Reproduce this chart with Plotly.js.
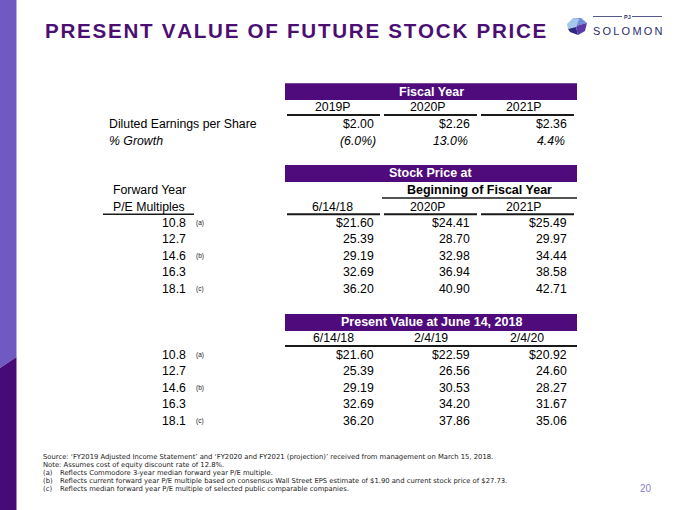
<!DOCTYPE html>
<html><head><meta charset="utf-8">
<script src="https://cdn.plot.ly/plotly-3.0.1.min.js"></script>
<style>html,body{margin:0;padding:0;background:#fff}#chart{width:680px;height:510px}</style>
</head><body><div id="chart"></div>
<script>
// ---------- DATA ----------
const pageTitle = 'PRESENT VALUE OF FUTURE STOCK PRICE';
const fiscalYears = ['2019P', '2020P', '2021P'];
const dilutedEPS = [2.00, 2.26, 2.36];
const epsGrowth = [-6.0, 13.0, 4.4];
const peMultiples = [10.8, 12.7, 14.6, 16.3, 18.1];
const peNotes = ['(a)', '', '(b)', '', '(c)'];
const stockPriceDates = ['6/14/18', '2020P', '2021P'];
const price061418 = [21.60, 25.39, 29.19, 32.69, 36.20];
const price2020P = [24.41, 28.70, 32.98, 36.94, 40.90];
const price2021P = [25.49, 29.97, 34.44, 38.58, 42.71];
const pvDates = ['6/14/18', '2/4/19', '2/4/20'];
const pv061418 = [21.60, 25.39, 29.19, 32.69, 36.20];
const pv020419 = [22.59, 26.56, 30.53, 34.20, 37.86];
const pv020420 = [20.92, 24.60, 28.27, 31.67, 35.06];
const footnoteLabels = ['', '', '(a)', '(b)', '(c)'];
const footnoteTexts = [
  "Source: \u2018FY2019 Adjusted Income Statement\u2019 and \u2018FY2020 and FY2021 (projection)\u2019 received from management on March 15, 2018.",
  "Note: Assumes cost of equity discount rate of 12.8%.",
  "Reflects Commodore 3-year median forward year P/E multiple.",
  "Reflects current forward year P/E multiple based on consensus Wall Street EPS estimate of $1.90 and current stock price of $27.73.",
  "Reflects median forward year P/E multiple of selected public comparable companies."
];
const pageNumber = '20';

// ---------- STYLE / LAYOUT CONSTANTS ----------
const FONT = 'Liberation Sans, Arial, sans-serif';
const NOTE_FONT = 'DejaVu Sans, Liberation Sans, sans-serif';
const PURPLE = '#4f0b7b';
const colRight = [375.5, 472, 568.5];
const colCenter = [332.5, 427.5, 524];
const segs = [[287, 380], [384, 477], [481, 574]];
const rowGap = 16.55;

const ann = [];
const shapes = [];
function T(x, y, text, o) {
  o = o || {};
  ann.push({
    xref: 'x', yref: 'y', x: x, y: y, text: text, showarrow: false,
    xanchor: o.xa || 'center', yanchor: 'middle',
    font: {family: o.family || FONT, size: o.size || 12.3, color: o.color || '#000',
           weight: o.weight || 'normal', style: o.style || 'normal'}
  });
}
function L(x0, y0, x1, y1, w, c) {
  shapes.push({type: 'line', xref: 'x', yref: 'y', x0: x0, y0: y0, x1: x1, y1: y1,
               line: {color: c || '#1a1a1a', width: w || 2}});
}
function R(x0, y0, x1, y1, c) {
  shapes.push({type: 'rect', xref: 'x', yref: 'y', x0: x0, y0: y0, x1: x1, y1: y1,
               fillcolor: c, line: {width: 0}, layer: 'below'});
}
function P(path, c) {
  shapes.push({type: 'path', xref: 'x', yref: 'y', path: path, fillcolor: c, line: {width: 0}});
}
const spaced = (s, sp) => s.split('').join(sp || '\u2009');
const money = (v, i) => (i === 0 ? '$' : '') + v.toFixed(2);

// side bar
P('M0,0 L16.5,0 L16.5,357 L0,368 Z', '#7159c3');
P('M0,368 L16.5,357 L16.5,510 L0,510 Z', '#470b77');

// title
T(43, 30.6, spaced(pageTitle, '\u200A'), {xa: 'left', size: 20.6, weight: 'bold', color: '#4b0f74'});

// logo
P('M567,24 L573,18 L579,19 L576,27 L568,29 Z', '#a6c6ec');
P('M573,18 L581,18 L587,23 L579,25 L576,27 L579,19 Z', '#6f90d8');
P('M568,29 L576,27 L578,35 L570,32 Z', '#2e2a7c');
P('M576,27 L579,25 L587,23 L585,31 L578,35 Z', '#5a3aa8');
L(593, 16.5, 622, 16.5, 0.8, '#2b2d6e');
L(632, 16.5, 662, 16.5, 0.8, '#2b2d6e');
T(627, 16.5, 'PJ', {size: 5.5, color: '#2b2d6e', weight: 'bold'});
T(627, 30.5, spaced('SOLOMON'), {size: 11, color: '#2b2d6e'});

// ---------- Section 1: Fiscal Year ----------
R(285, 83.3, 577, 100, PURPLE);
T(431, 91.7, 'Fiscal Year', {weight: 'bold', color: '#fff', size: 12.5});
fiscalYears.forEach((y, i) => { T(colCenter[i], 107.3, y); L(segs[i][0], 115, segs[i][1], 115); });
T(107, 124.3, 'Diluted Earnings per Share', {xa: 'left'});
dilutedEPS.forEach((v, i) => T(colRight[i], 124.3, '$' + v.toFixed(2), {xa: 'right'}));
T(107, 140.8, '% Growth', {xa: 'left', style: 'italic'});
epsGrowth.forEach((v, i) => {
  const neg = v < 0;
  const s = neg ? '(' + Math.abs(v).toFixed(1) + '%)' : v.toFixed(1) + '%';
  T(colRight[i] + (neg ? 2.5 : -2), 140.8, s, {xa: 'right', style: 'italic'});
});

// ---------- Section 2: Stock Price ----------
R(285, 165, 577, 182, PURPLE);
T(431, 173.4, 'Stock Price at', {weight: 'bold', color: '#fff', size: 12.5});
T(149, 190, 'Forward Year');
T(149, 206.7, 'P/E Multiples');
L(103, 214.3, 194, 214.3, 1.6);
T(479, 190, 'Beginning of Fiscal Year', {weight: 'bold', size: 12.5});
L(382, 198, 577, 198, 1.6);
stockPriceDates.forEach((d, i) => { T(colCenter[i], 206.7, d); L(segs[i][0], 214.3, segs[i][1], 214.3); });
const priceCols = [price061418, price2020P, price2021P];
peMultiples.forEach((m, r) => {
  const y = 222.7 + r * rowGap;
  T(187.5, y, m.toFixed(1), {xa: 'right'});
  if (peNotes[r]) T(200, y, peNotes[r], {size: 6.5, color: '#222'});
  priceCols.forEach((col, c) => T(colRight[c], y, money(col[r], r), {xa: 'right'}));
});

// ---------- Section 3: Present Value ----------
R(285, 314, 577, 331, PURPLE);
T(431, 322.2, 'Present Value at June 14, 2018', {weight: 'bold', color: '#fff', size: 12.5});
pvDates.forEach((d, i) => T(colCenter[i] + (i ? 3 : 1), 338.3, d));
L(285, 346, 577, 346);
const pvCols = [pv061418, pv020419, pv020420];
peMultiples.forEach((m, r) => {
  const y = 354.5 + r * rowGap;
  T(187.5, y, m.toFixed(1), {xa: 'right'});
  if (peNotes[r]) T(200, y, peNotes[r], {size: 6.5, color: '#222'});
  pvCols.forEach((col, c) => T(colRight[c], y, money(col[r], r), {xa: 'right'}));
});

// ---------- Footnotes ----------
footnoteTexts.forEach((t, i) => {
  const y = 456.6 + i * 8.1;
  const fo = {xa: 'left', size: 6.8, color: '#1a1a1a', family: NOTE_FONT};
  if (footnoteLabels[i]) {
    T(40.5, y, footnoteLabels[i], fo);
    T(57.5, y, t, fo);
  } else {
    T(40.5, y, t, fo);
  }
});
T(645.5, 488.5, pageNumber, {size: 10, color: '#8a80cc'});

const layout = {
  width: 680, height: 510,
  margin: {l: 0, r: 0, t: 0, b: 0, pad: 0},
  paper_bgcolor: '#fff', plot_bgcolor: '#fff',
  xaxis: {range: [0, 680], visible: false, fixedrange: true},
  yaxis: {range: [510, 0], visible: false, fixedrange: true},
  showlegend: false,
  shapes: shapes,
  annotations: ann
};
Plotly.newPlot('chart', [{type: 'scatter', x: [], y: [], hoverinfo: 'skip'}], layout, {staticPlot: true, displayModeBar: false});
</script></body></html>
